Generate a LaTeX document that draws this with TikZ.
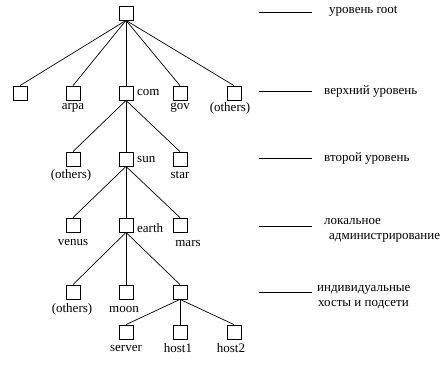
\documentclass[tikz,border=0pt]{standalone}
\usepackage{fontspec}
\setmainfont{Liberation Serif}
\begin{document}
\begin{tikzpicture}[x=1pt,y=-1pt,
  bx/.style={draw,line width=0.8pt,minimum size=14pt,inner sep=0pt},
  lbl/.style={inner sep=0pt,font=\fontsize{13}{15}\selectfont},
  rt/.style={inner sep=0pt,anchor=west,font=\fontsize{13}{15}\selectfont},
  edge/.style={line width=0.7pt},
  lvl/.style={line width=0.8pt}]
\useasboundingbox (0,0) rectangle (448,365);
% boxes
\node[bx] (root) at (126,13) {};
\node[bx] (l1a) at (20,93) {};
\node[bx] (arpa) at (73,93) {};
\node[bx] (com) at (126,93) {};
\node[bx] (gov) at (180,93) {};
\node[bx] (oth1) at (234,93) {};
\node[bx] (oth2) at (73,159) {};
\node[bx] (sun) at (126,159) {};
\node[bx] (star) at (180,159) {};
\node[bx] (venus) at (73,225) {};
\node[bx] (earth) at (126,225) {};
\node[bx] (mars) at (180,225) {};
\node[bx] (oth3) at (73,292) {};
\node[bx] (moon) at (126,292) {};
\node[bx] (sub) at (180,292) {};
\node[bx] (server) at (126,332) {};
\node[bx] (host1) at (180,332) {};
\node[bx] (host2) at (234,332) {};
% labels
\node[lbl] (tarpa) at (73,108) {arpa};
\node[lbl,anchor=west] (tcom) at (137,92) {com};
\node[lbl] (tgov) at (180,108) {gov};
\node[lbl] (toth1) at (230,108) {(others)};
\node[lbl] (toth2) at (71,175) {(others)};
\node[lbl,anchor=west] (tsun) at (137,159) {sun};
\node[lbl] (tstar) at (180,175) {star};
\node[lbl] (tvenus) at (73,242) {venus};
\node[lbl,anchor=west] (tearth) at (137,228) {earth};
\node[lbl] (tmars) at (188,243) {mars};
\node[lbl] (toth3) at (72,309) {(others)};
\node[lbl] (tmoon) at (124,309) {moon};
\node[lbl] (tserver) at (126,348) {server};
\node[lbl] (thost1) at (178,348) {host1};
\node[lbl] (thost2) at (231,348) {host2};
% edges
\foreach \c in {l1a,arpa,com,gov,oth1} \draw[edge] (root.south) -- (\c.north);
\foreach \c in {oth2,sun,star} \draw[edge] (com.south) -- (\c.north);
\foreach \c in {venus,earth,mars} \draw[edge] (sun.south) -- (\c.north);
\foreach \c in {oth3,moon,sub} \draw[edge] (earth.south) -- (\c.north);
\foreach \c in {server,host1,host2} \draw[edge] (sub.south) -- (\c.north);
% level markers
\coordinate (a1) at (259,12); \coordinate (b1) at (312,12);
\coordinate (a2) at (259,91); \coordinate (b2) at (312,91);
\coordinate (a3) at (259,158); \coordinate (b3) at (312,158);
\coordinate (a4) at (259,226); \coordinate (b4) at (312,226);
\coordinate (a5) at (259,292); \coordinate (b5) at (312,292);
\draw[lvl] (a1) -- (b1);
\draw[lvl] (a2) -- (b2);
\draw[lvl] (a3) -- (b3);
\draw[lvl] (a4) -- (b4);
\draw[lvl] (a5) -- (b5);
\node[rt] (r1) at (329,11) {уровень root};
\node[rt] (r2) at (324,91) {верхний уровень};
\node[rt] (r3) at (324,158) {второй уровень};
\node[rt] (r4a) at (324,221) {локальное};
\node[rt] (r4b) at (329,238) {администрирование};
\node[rt] (r5a) at (317,290) {индивидуальные};
\node[rt] (r5b) at (318,305) {хосты и подсети};
\end{tikzpicture}
\end{document}
